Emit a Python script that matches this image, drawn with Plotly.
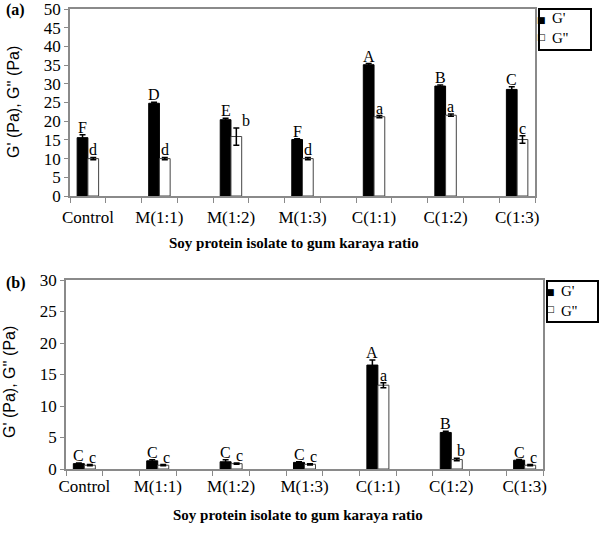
import plotly.graph_objects as go

# ---------------- data ----------------
categories = ["Control", "M(1:1)", "M(1:2)", "M(1:3)", "C(1:1)", "C(1:2)", "C(1:3)"]

a_gp = [15.6, 24.8, 20.4, 15.1, 35.1, 29.4, 28.5]
a_gp_err = [0.8, 0.3, 0.4, 0.2, 0.3, 0.3, 0.7]
a_gpp = [10.0, 10.0, 15.9, 10.0, 21.2, 21.6, 15.1]
a_gpp_err = [0.3, 0.3, 2.3, 0.3, 0.3, 0.3, 1.0]
a_gp_letters = ["F", "D", "E", "F", "A", "B", "C"]
a_gpp_letters = ["d", "d", "b", "d", "a", "a", "c"]

b_gp = [0.85, 1.3, 1.15, 1.05, 16.5, 5.8, 1.4]
b_gp_err = [0.1, 0.15, 0.3, 0.1, 0.8, 0.2, 0.1]
b_gpp = [0.6, 0.6, 0.85, 0.75, 13.3, 1.5, 0.6]
b_gpp_err = [0.1, 0.1, 0.1, 0.1, 0.4, 0.2, 0.1]
b_gp_letters = ["C", "C", "C", "C", "A", "B", "C"]
b_gpp_letters = ["c", "c", "c", "c", "a", "b", "c"]

y_ticks_a = [0, 5, 10, 15, 20, 25, 30, 35, 40, 45, 50]
y_ticks_b = [0, 5, 10, 15, 20, 25, 30]

series_names = ["G'", "G''"]
x_title = "Soy protein isolate to gum karaya ratio"
y_title = "G' (Pa), G'' (Pa)"

# ---------------- style ----------------
W, H = 600, 533
SERIF = "Liberation Serif, Times New Roman, serif"
SANS = "Liberation Sans, Arial, sans-serif"
AXIS_GRAY = "#8a8a8a"
BW = 0.15

xpos = list(range(len(categories)))


def px(x):
    return x / W


def py(y):
    return 1 - y / H


fig = go.Figure()


def add_panel(gp, gp_err, gpp, gpp_err, xa, ya):
    fig.add_trace(go.Bar(
        x=xpos, y=gp, name=series_names[0], width=BW, offset=-BW,
        marker=dict(color="black", line=dict(color="black", width=1)),
        error_y=dict(type="data", array=gp_err, color="black", thickness=1.5, width=3),
        xaxis=xa, yaxis=ya, showlegend=False,
    ))
    fig.add_trace(go.Bar(
        x=xpos, y=gpp, name=series_names[1], width=BW, offset=0,
        marker=dict(color="white", line=dict(color="#444444", width=1)),
        error_y=dict(type="data", array=gpp_err, color="black", thickness=1.5, width=3),
        xaxis=xa, yaxis=ya, showlegend=False,
    ))


add_panel(a_gp, a_gp_err, a_gpp, a_gpp_err, "x", "y")
add_panel(b_gp, b_gp_err, b_gpp, b_gpp_err, "x2", "y2")

annotations = []


def add_letters(gp, gp_err, gpp, gpp_err, gl, gpl, xref, yref, shifts_gpp):
    for i in range(len(categories)):
        annotations.append(dict(
            x=xpos[i] - BW / 2, y=gp[i] + gp_err[i], xref=xref, yref=yref,
            text=gl[i], showarrow=False, yanchor="bottom", yshift=-3,
            font=dict(family=SERIF, size=16, color="black")))
        annotations.append(dict(
            x=xpos[i] + BW / 2, y=gpp[i] + gpp_err[i], xref=xref, yref=yref,
            text=gpl[i], showarrow=False, yanchor="bottom", yshift=-3,
            xshift=shifts_gpp[i],
            font=dict(family=SERIF, size=16, color="black")))


add_letters(a_gp, a_gp_err, a_gpp, a_gpp_err, a_gp_letters, a_gpp_letters, "x", "y",
            [0, 0, 10, 0, 0, 0, 0])
add_letters(b_gp, b_gp_err, b_gpp, b_gpp_err, b_gp_letters, b_gpp_letters, "x2", "y2",
            [3, 3, 3, 3, 0, 4, 3])

# panel labels
annotations.append(dict(x=px(4), y=py(10), xref="paper", yref="paper", text="<b>(a)</b>",
                        showarrow=False, xanchor="left", yanchor="middle",
                        font=dict(family=SERIF, size=16, color="black")))
annotations.append(dict(x=px(4), y=py(283), xref="paper", yref="paper", text="<b>(b)</b>",
                        showarrow=False, xanchor="left", yanchor="middle",
                        font=dict(family=SERIF, size=16, color="black")))

# axis titles
for (tx, ty) in [(294, 243), (298, 515)]:
    annotations.append(dict(x=px(tx), y=py(ty), xref="paper", yref="paper",
                            text="<b>" + x_title + "</b>", showarrow=False,
                            xanchor="center", yanchor="middle",
                            font=dict(family=SERIF, size=15, color="black")))
for (tx, ty) in [(13, 102), (9, 382)]:
    annotations.append(dict(x=px(tx), y=py(ty), xref="paper", yref="paper",
                            text=y_title, showarrow=False, textangle=-90,
                            xanchor="center", yanchor="middle",
                            font=dict(family=SANS, size=16, color="black")))

# legends (manual boxes)
shapes = []
for (x0, y0, x1, y1, sx, tx, ly1, ly2) in [
    (539, 9, 591, 50, 547, 551, 20, 37),
    (547, 281, 598, 322, 556, 560, 292, 309),
]:
    shapes.append(dict(type="rect", xref="paper", yref="paper",
                       x0=px(x0), x1=px(x1), y0=py(y1), y1=py(y0),
                       line=dict(color="black", width=2), fillcolor="white"))
    for sym, ly in [("■", ly1), ("□", ly2)]:
        annotations.append(dict(x=px(sx), y=py(ly), xref="paper", yref="paper",
                                text=sym, showarrow=False, xanchor="right", yanchor="middle",
                                borderpad=0,
                                font=dict(family="DejaVu Sans", size=9, color="black")))
    annotations.append(dict(x=px(tx), y=py((ly1 + ly2) / 2), xref="paper", yref="paper",
                            text="<br>".join(series_names), showarrow=False,
                            xanchor="left", yanchor="middle", align="left", borderpad=0,
                            font=dict(family=SERIF, size=15, color="black")))

minor_ticks = [i * 0.5 - 0.25 for i in range(2 * len(categories) + 1)]


def xaxis_cfg(domain, anchor, standoff):
    return dict(domain=domain, anchor=anchor, range=[-0.25, len(categories) - 0.75],
                tickmode="array", tickvals=xpos, ticktext=categories, ticks="",
                showline=True, linecolor=AXIS_GRAY, linewidth=1.5, mirror=True,
                showgrid=False, zeroline=False, ticklabelstandoff=standoff,
                ticklabeloverflow="allow",
                tickfont=dict(family=SERIF, size=17, color="black"),
                minor=dict(tickmode="array", tickvals=minor_ticks, ticks="outside",
                           ticklen=5, tickcolor=AXIS_GRAY, tickwidth=1, showgrid=False))


def yaxis_cfg(domain, anchor, rng, tv):
    return dict(domain=domain, anchor=anchor, range=rng, tickmode="array", tickvals=tv,
                ticks="outside", ticklen=4, tickcolor=AXIS_GRAY,
                showline=True, linecolor=AXIS_GRAY, linewidth=1.5, mirror=True,
                showgrid=False, zeroline=False, ticklabeloverflow="allow",
                tickfont=dict(family=SERIF, size=17, color="black"))


fig.update_layout(
    width=W, height=H,
    margin=dict(l=0, r=0, t=0, b=0, autoexpand=False),
    paper_bgcolor="white", plot_bgcolor="white",
    barmode="overlay", showlegend=False,
    xaxis=xaxis_cfg([px(70), px(535)], "y", 5),
    yaxis=yaxis_cfg([py(196), py(9)], "x", [0, 50], y_ticks_a),
    xaxis2=xaxis_cfg([px(66), px(543)], "y2", 1),
    yaxis2=yaxis_cfg([py(469), py(280)], "x2", [0, 30], y_ticks_b),
    annotations=annotations, shapes=shapes,
)

fig.write_html(
    "out.html",
    config={"displayModeBar": False},
    post_script="document.body.style.margin='0';document.body.style.overflow='hidden';",
)
